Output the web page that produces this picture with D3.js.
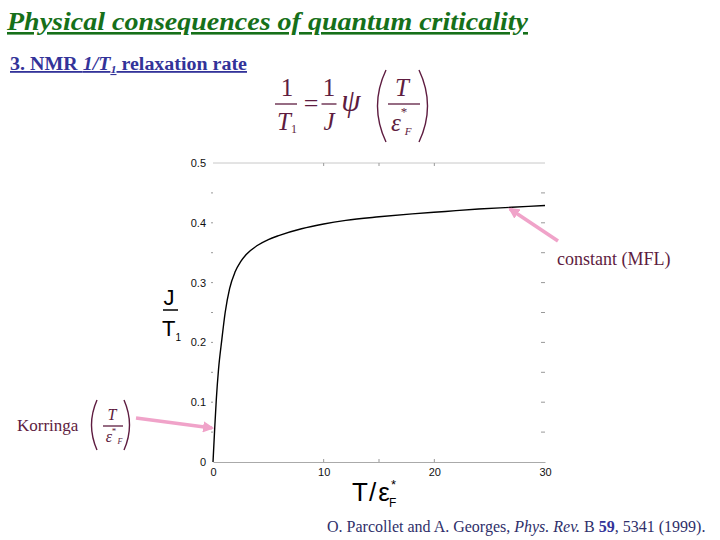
<!DOCTYPE html>
<html>
<head>
<meta charset="utf-8">
<script src="https://cdn.jsdelivr.net/npm/d3@7"></script>
<style>
  body { margin: 0; background: #fff; }
</style>
</head>
<body>
<div id="chart"></div>
<script>
// values: J/T1 versus T/eps*_F
var tValues = [0, 0.15, 0.3, 0.5, 0.8, 1.1, 1.5, 2, 2.5, 3, 4, 5, 6, 8, 10, 12, 15, 18, 21, 24, 27, 30];
var rateValues = [0, 0.055, 0.105, 0.155, 0.205, 0.25, 0.29, 0.318, 0.335, 0.347, 0.362, 0.372, 0.379, 0.39, 0.398, 0.404, 0.41, 0.415, 0.419, 0.423, 0.426, 0.429];
var xTickLabels = [0, 10, 20, 30];
var yTickLabels = [0, 0.1, 0.2, 0.3, 0.4, 0.5];
var yMinorTicks = [0.05, 0.1, 0.15, 0.2, 0.25, 0.3, 0.35, 0.4, 0.45];
var xMinorTicks = [10, 15, 20];

var W = 720, H = 540;
var sans = '"Liberation Sans", Arial, sans-serif';
var serif = '"Liberation Serif", "Times New Roman", serif';
var maroon = "#5e1c40";
var pink = "#f0a3c9";

var svg = d3.select("#chart").append("svg")
    .attr("width", W)
    .attr("height", H)
    .style("font-family", sans);

var x = d3.scaleLinear().domain([0, 30]).range([213, 545]);
var y = d3.scaleLinear().domain([0, 0.5]).range([462, 163]);

// title + subtitle
svg.append("text")
    .attr("x", 7).attr("y", 30)
    .style("font-family", serif)
    .attr("font-size", 26)
    .attr("font-style", "italic")
    .attr("font-weight", "bold")
    .attr("text-decoration", "underline")
    .attr("fill", "#16701a")
    .attr("textLength", 521)
    .attr("lengthAdjust", "spacingAndGlyphs")
    .text("Physical consequences of quantum criticality");

var sub = svg.append("text")
    .attr("x", 10).attr("y", 70)
    .style("font-family", serif)
    .attr("font-size", 18)
    .attr("font-weight", "bold")
    .attr("text-decoration", "underline")
    .attr("fill", "#333399")
    .attr("textLength", 237)
    .attr("lengthAdjust", "spacingAndGlyphs");
sub.append("tspan").text("3. NMR ");
sub.append("tspan").attr("font-style", "italic").text("1/T");
sub.append("tspan").attr("font-style", "italic").attr("font-size", 11).attr("dy", 3).text("1");
sub.append("tspan").attr("dy", -3).text(" relaxation rate");

// frame line on top
svg.append("line")
    .attr("x1", x(0)).attr("x2", x(30))
    .attr("y1", y(0.5)).attr("y2", y(0.5))
    .attr("stroke", "#c8c8c8").attr("stroke-width", 1);

var xAxis = d3.axisBottom(x).tickValues(xTickLabels).tickSize(0).tickPadding(6);
var gx = svg.append("g")
    .attr("transform", "translate(0," + y(0) + ")")
    .call(xAxis);
gx.select(".domain").attr("stroke", "#aaa");
gx.selectAll("text").attr("font-size", 11).attr("fill", "#111").style("font-family", sans);

var yAxis = d3.axisLeft(y).tickValues(yTickLabels).tickSize(0).tickPadding(7)
    .tickFormat(function (d) { return d === 0 ? "0" : d3.format(".1f")(d); });
var gy = svg.append("g")
    .attr("transform", "translate(" + x(0) + ",0)")
    .call(yAxis);
gy.select(".domain").remove();
gy.selectAll("text").attr("font-size", 11).attr("fill", "#111").style("font-family", sans);

// minor tick dashes
svg.selectAll(".ltick").data(yMinorTicks).enter().append("line")
    .attr("x1", x(0) - 2).attr("x2", x(0))
    .attr("y1", function (d) { return y(d); }).attr("y2", function (d) { return y(d); })
    .attr("stroke", "#999");
svg.selectAll(".rtick").data(yMinorTicks).enter().append("line")
    .attr("x1", x(30) - 4).attr("x2", x(30))
    .attr("y1", function (d) { return y(d); }).attr("y2", function (d) { return y(d); })
    .attr("stroke", "#999");
svg.selectAll(".ttick").data(xMinorTicks).enter().append("line")
    .attr("x1", function (d) { return x(d); }).attr("x2", function (d) { return x(d); })
    .attr("y1", y(0.5)).attr("y2", y(0.5) + 3)
    .attr("stroke", "#999");
svg.selectAll(".btick").data(xMinorTicks).enter().append("line")
    .attr("x1", function (d) { return x(d); }).attr("x2", function (d) { return x(d); })
    .attr("y1", y(0)).attr("y2", y(0) - 3)
    .attr("stroke", "#999");

// the curve
var pts = tValues.map(function (t, i) { return [t, rateValues[i]]; });
var line = d3.line()
    .x(function (d) { return x(d[0]); })
    .y(function (d) { return y(d[1]); })
    .curve(d3.curveMonotoneX);
svg.append("path")
    .datum(pts)
    .attr("d", line)
    .attr("fill", "none")
    .attr("stroke", "#000")
    .attr("stroke-width", 1.4);

// axis titles
svg.append("text").attr("x", 169).attr("y", 305)
    .attr("text-anchor", "middle").attr("font-size", 22).text("J");
svg.append("line").attr("x1", 163).attr("x2", 178).attr("y1", 310).attr("y2", 310)
    .attr("stroke", "#000").attr("stroke-width", 1.5);
var t1 = svg.append("text").attr("x", 162).attr("y", 336).attr("font-size", 22);
t1.append("tspan").text("T");
t1.append("tspan").attr("font-size", 10).attr("dy", 5).text("1");

var xl = svg.append("text").attr("x", 352).attr("y", 501).attr("font-size", 26);
xl.append("tspan").text("T");
xl.append("tspan").attr("dx", 1).text("/");
xl.append("tspan").attr("dx", 2).text("ε");
svg.append("text").attr("x", 391).attr("y", 489).attr("font-size", 13).text("*");
svg.append("text").attr("x", 389).attr("y", 507).attr("font-size", 12).text("F");

// formula at top
function bar(g, cx, barY, barW) {
    g.append("line").attr("x1", cx - barW / 2).attr("x2", cx + barW / 2)
        .attr("y1", barY).attr("y2", barY).attr("stroke", maroon).attr("stroke-width", 1.3);
}
function paren(g, x0, y0, y1, dir, bulge) {
    var mid = (y0 + y1) / 2;
    g.append("path")
        .attr("d", "M" + x0 + "," + y0 + " Q" + (x0 - dir * bulge) + "," + mid + " " + x0 + "," + y1)
        .attr("fill", "none").attr("stroke", maroon).attr("stroke-width", 1.4);
}
var f = svg.append("g").style("font-family", serif).attr("fill", maroon);
f.append("text").attr("x", 287).attr("y", 96).attr("text-anchor", "middle").attr("font-size", 25).text("1");
bar(f, 286, 104, 22);
var ft1 = f.append("text").attr("x", 277).attr("y", 130).attr("font-size", 25).attr("font-style", "italic");
ft1.append("tspan").text("T");
ft1.append("tspan").attr("font-size", 12).attr("font-style", "normal").attr("dy", 3).text("1");
f.append("text").attr("x", 311).attr("y", 112).attr("text-anchor", "middle").attr("font-size", 26).text("=");
f.append("text").attr("x", 329).attr("y", 96).attr("text-anchor", "middle").attr("font-size", 25).text("1");
bar(f, 329, 104, 15);
f.append("text").attr("x", 329).attr("y", 130).attr("text-anchor", "middle").attr("font-size", 25).attr("font-style", "italic").text("J");
f.append("text").attr("x", 351).attr("y", 111).attr("text-anchor", "middle").attr("font-size", 31).attr("font-style", "italic").text("ψ");
paren(f, 386, 70, 142, 1, 17);
paren(f, 419, 70, 142, -1, 17);
f.append("text").attr("x", 402).attr("y", 96).attr("text-anchor", "middle").attr("font-size", 25).attr("font-style", "italic").text("T");
bar(f, 404, 104, 32);
f.append("text").attr("x", 396).attr("y", 131).attr("text-anchor", "middle").attr("font-size", 25).attr("font-style", "italic").text("ε");
f.append("text").attr("x", 404).attr("y", 116).attr("text-anchor", "middle").attr("font-size", 13).text("*");
f.append("text").attr("x", 408).attr("y", 135).attr("text-anchor", "middle").attr("font-size", 11).attr("font-style", "italic").text("F");

// Korringa annotation
var k = svg.append("g").style("font-family", serif).attr("fill", maroon);
k.append("text").attr("x", 17).attr("y", 431).attr("font-size", 17).text("Korringa");
paren(k, 97, 400, 450, 1, 11);
paren(k, 124, 400, 450, -1, 11);
k.append("text").attr("x", 112).attr("y", 420).attr("text-anchor", "middle").attr("font-size", 16).attr("font-style", "italic").text("T");
bar(k, 113, 426, 20);
k.append("text").attr("x", 109).attr("y", 442).attr("text-anchor", "middle").attr("font-size", 16).attr("font-style", "italic").text("ε");
k.append("text").attr("x", 114).attr("y", 434).attr("text-anchor", "middle").attr("font-size", 9).text("*");
k.append("text").attr("x", 120).attr("y", 444).attr("text-anchor", "middle").attr("font-size", 8).attr("font-style", "italic").text("F");

// MFL annotation
svg.append("text").attr("x", 557).attr("y", 265)
    .style("font-family", serif).attr("font-size", 18).attr("fill", maroon)
    .text("constant (MFL)");

// pink arrows
var defs = svg.append("defs");
defs.append("marker").attr("id", "head")
    .attr("viewBox", "0 0 10 10").attr("refX", 8).attr("refY", 5)
    .attr("markerWidth", 3.2).attr("markerHeight", 3.2).attr("orient", "auto")
    .append("path").attr("d", "M0,0 L10,5 L0,10 z").attr("fill", pink);
svg.append("line").attr("x1", 136).attr("y1", 418).attr("x2", 212).attr("y2", 428)
    .attr("stroke", pink).attr("stroke-width", 3.5).attr("marker-end", "url(#head)");
svg.append("line").attr("x1", 558).attr("y1", 241).attr("x2", 510).attr("y2", 209)
    .attr("stroke", pink).attr("stroke-width", 3.5).attr("marker-end", "url(#head)");

// citation
var c = svg.append("text").attr("x", 327).attr("y", 532)
    .style("font-family", serif).attr("font-size", 16).attr("fill", "#2f2f6a");
c.append("tspan").text("O. Parcollet and A. Georges, ");
c.append("tspan").attr("font-style", "italic").text("Phys. Rev.");
c.append("tspan").text(" B ");
c.append("tspan").attr("font-weight", "bold").attr("fill", "#333399").text("59");
c.append("tspan").text(", 5341 (1999).");
</script>
</body>
</html>
